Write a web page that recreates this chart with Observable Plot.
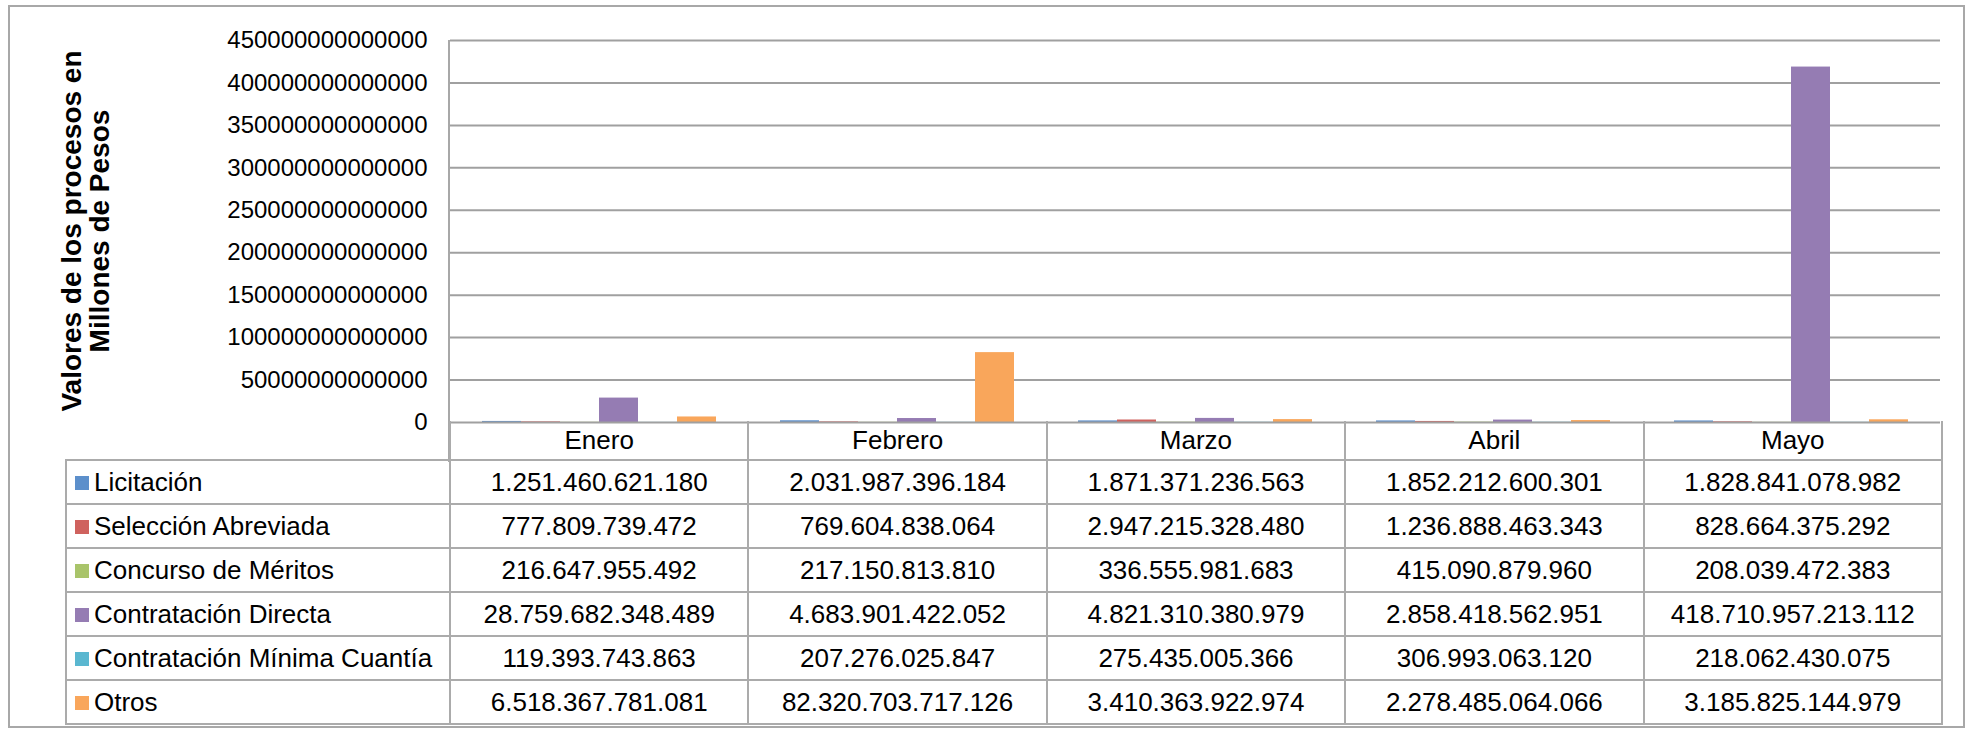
<!DOCTYPE html>
<html>
<head>
<meta charset="utf-8">
<script src="https://cdn.jsdelivr.net/npm/d3@7"></script>
<script src="https://cdn.jsdelivr.net/npm/@observablehq/plot@0.6"></script>
<style>
  html, body { margin: 0; padding: 0; background: #fff; }
  #wrap { position: relative; width: 1972px; height: 733px; overflow: hidden; font-family: Arial, "Liberation Sans", sans-serif; color: #000; }
  #frame { position: absolute; left: 8px; top: 5px; width: 1957px; height: 723px; box-sizing: border-box; border: 2px solid #A8A8A8; }
  #plot { position: absolute; left: 0; top: 0; }
  #ytitle { position: absolute; left: -113.7px; top: 203px; width: 400px; height: 56px; line-height: 28px; font-size: 28px; font-weight: bold; text-align: center; white-space: nowrap; transform: rotate(-90deg); transform-origin: 50% 50%; }
  #axisline { position: absolute; left: 448px; top: 40px; width: 2px; height: 422px; background: #A8A8A8; }
  #tbl { position: absolute; left: 65px; top: 421px; border-collapse: collapse; table-layout: fixed; width: 1876px; font-size: 26px; }
  #tbl td, #tbl th { padding: 0; border: 2px solid #ABABAB; white-space: nowrap; font-weight: normal; text-align: center; vertical-align: middle; }
  #tbl tr.head th { border-top: none; height: 38px; }
  #tbl tr.head th.blank { border: none; }
  #tbl tr.row td { height: 42px; }
  #tbl td.lab { text-align: left; padding-left: 8px; }
  .sw { display: inline-block; width: 14px; height: 14px; margin-right: 5px; vertical-align: 1px; }
</style>
</head>
<body>
<div id="wrap">
  <div id="frame"></div>
  <div id="plot"></div>
  <div id="axisline"></div>
  <div id="ytitle">Valores de los procesos en<br>Millones de Pesos</div>
  <table id="tbl"></table>
</div>
<script>
// ---- data ----
const months = ["Enero", "Febrero", "Marzo", "Abril", "Mayo"];
const series = ["Licitación", "Selección Abreviada", "Concurso de Méritos", "Contratación Directa", "Contratación Mínima Cuantía", "Otros"];
const licitacion = [1251460621180, 2031987396184, 1871371236563, 1852212600301, 1828841078982];
const seleccionAbreviada = [777809739472, 769604838064, 2947215328480, 1236888463343, 828664375292];
const concursoMeritos = [216647955492, 217150813810, 336555981683, 415090879960, 208039472383];
const contratacionDirecta = [28759682348489, 4683901422052, 4821310380979, 2858418562951, 418710957213112];
const minimaCuantia = [119393743863, 207276025847, 275435005366, 306993063120, 218062430075];
const otros = [6518367781081, 82320703717126, 3410363922974, 2278485064066, 3185825144979];
const colors = ["#5C8FCB", "#CF625E", "#A9C46A", "#957CB3", "#5AB7D0", "#F9A65B"];
const yTicks = [0, 50000000000000, 100000000000000, 150000000000000, 200000000000000, 250000000000000, 300000000000000, 350000000000000, 400000000000000, 450000000000000];

const seriesValues = [licitacion, seleccionAbreviada, concursoMeritos, contratacionDirecta, minimaCuantia, otros];
const data = [];
months.forEach((m, i) => seriesValues.forEach((arr, j) => data.push({month: m, series: series[j], value: arr[i]})));

// ---- chart ----
const chart = Plot.plot({
  width: 1972,
  height: 430,
  marginLeft: 449,
  marginRight: 32,
  marginTop: 40,
  marginBottom: 8,
  style: {fontFamily: "Arial, 'Liberation Sans', sans-serif", fontSize: "24px", background: "transparent", color: "#000", overflow: "visible"},
  fx: {domain: months, padding: 0, axis: null},
  x: {domain: series, paddingInner: 0, paddingOuter: 0.75, axis: null},
  y: {domain: [0, 450000000000000], ticks: yTicks, tickFormat: d => String(d), tickSize: 0, tickPadding: 23, label: null},
  color: {domain: series, range: colors},
  marks: [
    Plot.ruleY(yTicks.slice(1), {stroke: "#A0A0A0", strokeWidth: 2, strokeOpacity: 1}),
    Plot.barY(data, {fx: "month", x: "series", y: "value", fill: "series"}),
    Plot.ruleY([0], {stroke: "#A0A0A0", strokeWidth: 2, strokeOpacity: 1})
  ]
});
document.getElementById("plot").appendChild(chart);

// ---- data table ----
const fmt = d3.formatLocale({decimal: ",", thousands: ".", grouping: [3], currency: ["$", ""]}).format(",d");
const tbl = d3.select("#tbl");
const cg = tbl.append("colgroup");
cg.append("col").style("width", "384px");
months.forEach(() => cg.append("col").style("width", "298.4px"));
const head = tbl.append("tr").attr("class", "head");
head.append("th").attr("class", "blank");
months.forEach(m => head.append("th").text(m));
series.forEach((s, j) => {
  const tr = tbl.append("tr").attr("class", "row");
  const lab = tr.append("td").attr("class", "lab");
  lab.append("span").attr("class", "sw").style("background", colors[j]);
  lab.append("span").text(s);
  seriesValues[j].forEach(v => tr.append("td").text(fmt(v)));
});
</script>
</body>
</html>
